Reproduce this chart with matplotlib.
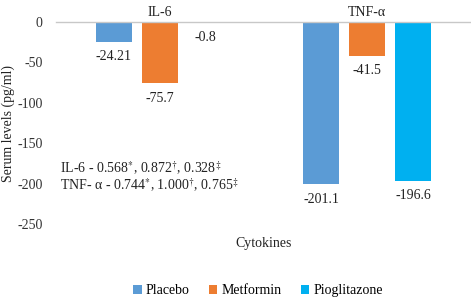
import matplotlib
matplotlib.use("Agg")
import matplotlib.pyplot as plt
import numpy as np

plt.rcParams['font.family'] = ['Liberation Serif', 'DejaVu Serif']
plt.rcParams['mathtext.fontset'] = 'stix'

categories = ["IL-6", "TNF-\u03b1"]
series_names = ["Placebo", "Metformin", "Pioglitazone"]
placebo = [-24.21, -201.1]
metformin = [-75.7, -41.5]
pioglitazone = [-0.8, -196.6]
value_labels = [["-24.21", "-201.1"], ["-75.7", "-41.5"], ["-0.8", "-196.6"]]
colors = ["#5B9BD5", "#ED7D31", "#00B0F0"]
yticks = [0, -50, -100, -150, -200, -250]

FS = 10
fig = plt.figure(figsize=(4.71, 2.99), dpi=100)
ax = fig.add_axes([0.119, 0.251, 0.881, 0.675])

x = np.arange(len(categories))
width = 0.174
step = 0.222
for i, (vals, c) in enumerate(zip([placebo, metformin, pioglitazone], colors)):
    pos = x + (i - 1) * step
    ax.bar(pos, vals, width, color=c, label=series_names[i])
    for p, v, lab in zip(pos, vals, value_labels[i]):
        ax.annotate(lab, (p, v), xytext=(0, -6), textcoords='offset points',
                    ha='center', va='top', fontsize=FS, color='#222222')

ax.set_xlim(-0.5, 1.5)
ax.set_ylim(-250, 0)
ax.set_yticks(yticks)
ax.set_yticklabels([str(t) for t in yticks], fontsize=FS, color='#333333')
ax.tick_params(axis='y', length=0, pad=9.5)
ax.xaxis.tick_top()
ax.set_xticks(x)
ax.set_xticklabels(categories, fontsize=FS, color='#222222')
ax.tick_params(axis='x', length=0, pad=2)
for s in ['left', 'right', 'bottom']:
    ax.spines[s].set_visible(False)
ax.spines['top'].set_color('#C8C8C8')
ax.spines['top'].set_linewidth(1.0)

ax.set_ylabel("Serum levels (pg/ml)", fontsize=FS, color='#222222')
ax.yaxis.set_label_coords(-0.098, 0.5)

ax.text(0.01, 0.277, r"IL-6 - 0.568$^{*}$, 0.872$^{\dagger}$, 0.328$^{\ddagger}$",
        transform=ax.transAxes, fontsize=FS, color='#222222', va='center')
ax.text(0.01, 0.193, "TNF- \u03b1 - 0.744$^{*}$, 1.000$^{\\dagger}$, 0.765$^{\\ddagger}$",
        transform=ax.transAxes, fontsize=FS, color='#222222', va='center')

ax.text(0.5, -0.099, "Cytokines", transform=ax.transAxes, ha='center', va='center',
        fontsize=FS, color='#222222')

leg = ax.legend(loc='center', bbox_to_anchor=(0.487, -0.332), ncol=3, frameon=False,
                fontsize=FS, handlelength=0.6, handleheight=0.6, handletextpad=0.3,
                columnspacing=1.4)

fig.savefig("out.png", dpi=100)
